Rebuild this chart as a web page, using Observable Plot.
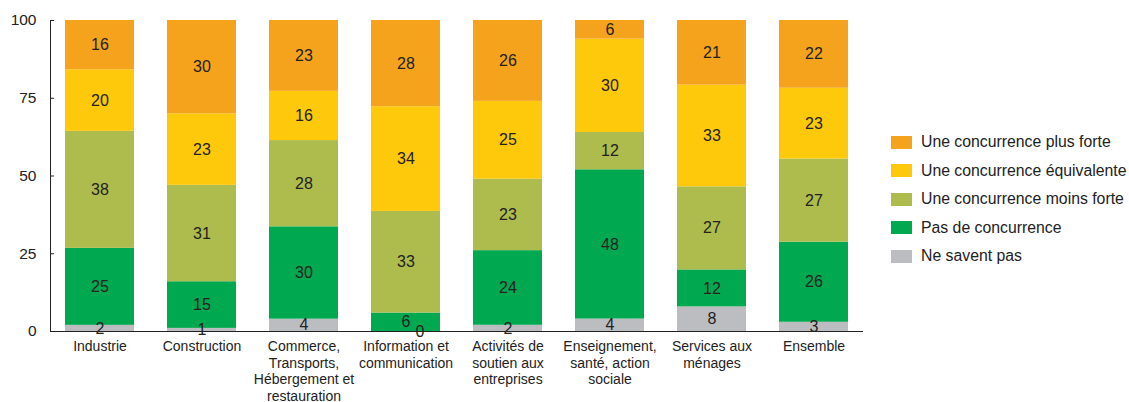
<!DOCTYPE html>
<html><head><meta charset="utf-8">
<script src="https://cdn.jsdelivr.net/npm/d3@7"></script>
<script src="https://cdn.jsdelivr.net/npm/@observablehq/plot@0.6"></script>
<style>
body{margin:0;background:#fff;font-family:"Liberation Sans",Arial,sans-serif;color:#222;}
#wrap{position:relative;width:1129px;height:402px;}
#chart{position:absolute;left:0;top:0;}
#legend{position:absolute;left:891px;top:128px;}
.row{display:flex;align-items:center;height:28.5px;font-size:15.8px;color:#222;}
.sw{width:21px;height:13px;margin-right:9px;flex:none;}
</style></head>
<body><div id="wrap"><div id="chart"></div><div id="legend"></div></div>
<script>
const categories = ["Industrie","Construction","Commerce,\nTransports,\nHébergement et\nrestauration","Information et\ncommunication","Activités de\nsoutien aux\nentreprises","Enseignement,\nsanté, action\nsociale","Services aux\nménages","Ensemble"];
const series = ["Ne savent pas","Pas de concurrence","Une concurrence moins forte","Une concurrence équivalente","Une concurrence plus forte"];
const colors = ["#bcbdc1","#00a84f","#aebb4d","#fec80b","#f5a31d"];
const neSaventPas      = [2, 1, 4, 0, 2, 4, 8, 3];
const pasDeConcurrence = [25,15,30, 6,24,48,12,26];
const moinsForte       = [38,31,28,33,23,12,27,27];
const equivalente      = [20,23,16,34,25,30,33,23];
const plusForte        = [16,30,23,28,26, 6,21,22];
const yTicks = [0,25,50,75,100];

const valuesBySeries = [neSaventPas,pasDeConcurrence,moinsForte,equivalente,plusForte];
const data = [];
series.forEach((s,i)=>categories.forEach((c,j)=>data.push({cat:c,serie:s,value:valuesBySeries[i][j]})));

const stackOpts = {x:"cat", y:"value", z:"serie", offset:"normalize", order: series};
const chart = Plot.plot({
  width: 866, height: 402,
  marginLeft: 50, marginRight: 3, marginTop: 20, marginBottom: 71,
  style:{fontFamily:"Liberation Sans, Arial, sans-serif", color:"#222", background:"transparent", overflow:"visible"},
  x:{domain:categories, paddingInner:0.32, paddingOuter:0.13, label:null},
  y:{domain:[0,1], label:null},
  color:{domain:series, range:colors},
  marks:[
    Plot.barY(data, Plot.stackY({...stackOpts, fill:"serie"})),
    Plot.text(data.filter(d=>d.value>0), Plot.stackY({...stackOpts, text:"value", fontSize:16, fill:"#222"})),
    Plot.text(data, Plot.stackY({...stackOpts, filter:d=>d.value===0, text:"value", fontSize:16, fill:"#222", dx:14, dy:0})),
    Plot.axisY({ticks:yTicks.map(t=>t/100), tickFormat:d=>Math.round(d*100), tickSize:-4, tickPadding:18, fontSize:15.5, stroke:"#222", strokeOpacity:1, color:"#222"}),
    Plot.axisX({tickSize:0, tickPadding:8, fontSize:14, lineHeight:1.18, color:"#222"}),
    Plot.frame({anchor:"left", stroke:"#222"}),
    Plot.ruleY([0], {stroke:"#222", strokeWidth:1.2})
  ]
});
document.getElementById("chart").appendChild(chart);

const legend = document.getElementById("legend");
[...series.keys()].reverse().forEach(i=>{
  const r=document.createElement("div");r.className="row";
  const s=document.createElement("div");s.className="sw";s.style.background=colors[i];
  r.appendChild(s);r.appendChild(document.createTextNode(series[i]));legend.appendChild(r);
});
</script></body></html>
